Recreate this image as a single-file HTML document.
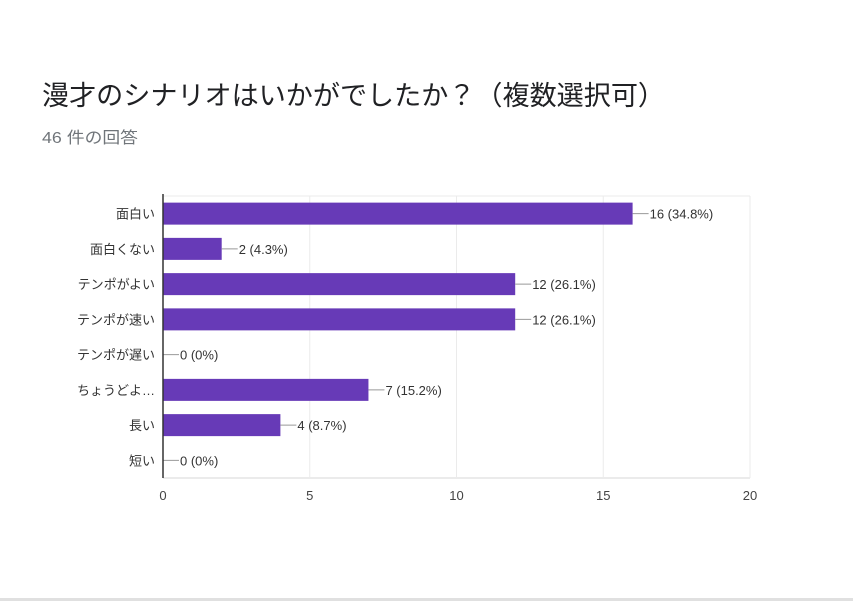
<!DOCTYPE html>
<html><head><meta charset="utf-8"><style>
body{margin:0;background:#fff;width:853px;height:602px;overflow:hidden;font-family:"Liberation Sans","Noto Sans CJK JP",sans-serif;}
</style></head><body>
<svg width="853" height="602" style="position:absolute;left:0;top:0">
<text x="42" y="105" font-size="27" textLength="623" lengthAdjust="spacingAndGlyphs" fill="#202124" font-family="Liberation Sans, Noto Sans CJK JP, sans-serif">漫才のシナリオはいかがでしたか？（複数選択可）</text>
<text x="42" y="143" font-size="16" textLength="96" lengthAdjust="spacingAndGlyphs" fill="#70757a" font-family="Liberation Sans, Noto Sans CJK JP, sans-serif">46 件の回答</text>
<rect x="0" y="598" width="853" height="3" fill="#e0e0e0"/>
<g id="plot" font-family="Liberation Sans, Noto Sans CJK JP, sans-serif"></g>
</svg>
<script>
const categories=["面白い","面白くない","テンポがよい","テンポが速い","テンポが遅い","ちょうどよ…","長い","短い"];
const counts=[16,2,12,12,0,7,4,0];
const percents=["34.8%","4.3%","26.1%","26.1%","0%","15.2%","8.7%","0%"];
const ticks=[0,5,10,15,20];
const NS="http://www.w3.org/2000/svg";
const plotG=document.getElementById('plot');
const x0=163,x1=750,yTop=196,yBot=478;
const xs=v=>x0+(v-0)/(20-0)*(x1-x0);
const band=(yBot-yTop)/categories.length;
const yc=i=>yTop+band*(i+0.5);
function mk(t,a){const e=document.createElementNS(NS,t);for(const k in a)e.setAttribute(k,a[k]);plotG.appendChild(e);return e;}
ticks.forEach(t=>{
  const l=mk('line',{x1:xs(t),x2:xs(t),y1:yTop,y2:yBot,stroke:'#ebebeb','stroke-width':1});
  
  
  const tx=mk('text',{x:xs(t),y:500,'font-size':13,fill:'#444','text-anchor':'middle'});
  tx.textContent=t;
  
  
});
const topBorder=mk('line',{x1:x0,x2:x1,y1:yTop,y2:yTop,stroke:'#ebebeb'});


const botBorder=mk('line',{x1:x0,x2:x1,y1:yBot,y2:yBot,stroke:'#ebebeb','stroke-width':2});


categories.forEach((c,i)=>{
  const y=yc(i),h=22,v=counts[i];
  const lab=mk('text',{x:155,y:y+5,'font-size':13,fill:'#333','text-anchor':'end'});
  lab.textContent=c;
  
  
  if(v>0){
    const r=mk('rect',{x:x0,y:y-h/2,width:xs(v)-x0,height:h,fill:'#673ab7'});
    
    
  }
  const ex=xs(v);
  const ln=mk('line',{x1:ex,x2:ex+16,y1:y,y2:y,stroke:'#999'});
  
  
  const vt=mk('text',{x:ex+17,y:y+5,'font-size':13,fill:'#333'});
  vt.textContent=v+' ('+percents[i]+')';
  
  
});
const yAxis=mk('line',{x1:x0,x2:x0,y1:yTop-2,y2:yBot,stroke:'#333','stroke-width':1.5});


</script>
</body></html>
